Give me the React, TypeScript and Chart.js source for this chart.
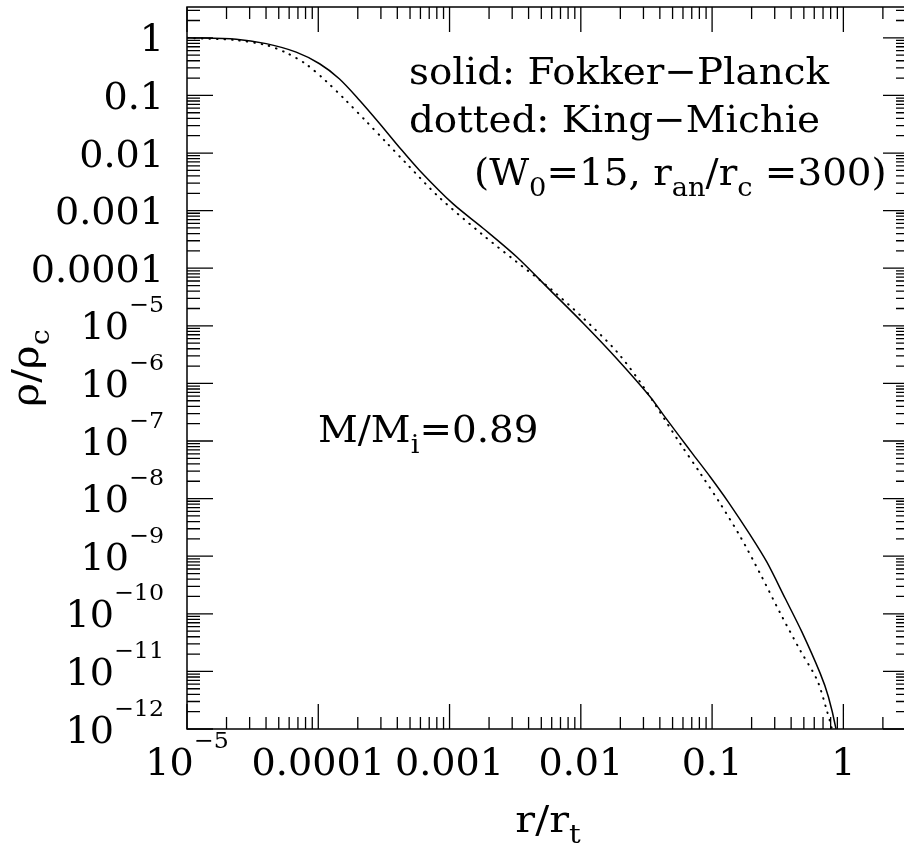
import React, { useEffect, useRef } from "react";
import { Chart, registerables } from "chart.js";

Chart.register(...registerables);

// ---- data ----
const rSolid = [1.0e-5, 2.37e-5, 4.01e-5, 6.79e-5, 1.023e-4, 1.445e-4, 2.06e-4, 2.92e-4, 4.14e-4, 5.89e-4, 1.06e-3, 1.81e-3, 3.24e-3, 5.83e-3, 1.047e-2, 1.88e-2, 3.37e-2, 4.27e-2, 5.70e-2, 7.21e-2, 9.66e-2, 0.133, 0.195, 0.261, 0.360, 0.482, 0.665, 0.769, 0.879, 0.912];
const rhoSolid = [1.0, 0.949, 0.793, 0.565, 0.355, 0.195, 0.0828, 0.0330, 0.01265, 5.04e-3, 1.32e-3, 4.90e-4, 1.58e-4, 4.17e-5, 1.10e-5, 2.69e-6, 5.89e-7, 2.82e-7, 1.17e-7, 5.75e-8, 2.40e-8, 8.71e-9, 2.34e-9, 7.94e-10, 1.86e-10, 4.90e-11, 9.33e-12, 3.63e-12, 1.0e-12, 5.0e-13];

const rDotted = [1.0e-5, 2.36e-5, 4.00e-5, 5.68e-5, 8.07e-5, 1.146e-4, 1.626e-4, 2.31e-4, 3.28e-4, 4.66e-4, 8.31e-4, 1.81e-3, 3.24e-3, 5.83e-3, 1.047e-2, 1.88e-2, 3.00e-2, 5.70e-2, 8.13e-2, 0.1148, 0.164, 0.232, 0.331, 0.468, 0.631, 0.746, 0.817, 0.841];
const rhoDotted = [1.0, 0.912, 0.747, 0.553, 0.349, 0.177, 0.0813, 0.0358, 0.01545, 6.68e-3, 1.71e-3, 3.72e-4, 1.29e-4, 4.47e-5, 1.35e-5, 3.55e-6, 8.71e-7, 9.12e-8, 2.75e-8, 8.32e-9, 2.19e-9, 5.01e-10, 1.02e-10, 2.34e-11, 7.08e-12, 2.14e-12, 1.0e-12, 5.0e-13];

const xMin = 1e-5;
const xMax = 3.162;
const yMin = 1e-12;
const yMax = 3.43;

const xTickValues = [1e-5, 1e-4, 1e-3, 1e-2, 1e-1, 1];
const xTickLabels = ["10^{−5}", "0.0001", "0.001", "0.01", "0.1", "1"];
const yTickValues = [1, 1e-1, 1e-2, 1e-3, 1e-4, 1e-5, 1e-6, 1e-7, 1e-8, 1e-9, 1e-10, 1e-11, 1e-12];
const yTickLabels = ["1", "0.1", "0.01", "0.001", "0.0001", "10^{−5}", "10^{−6}", "10^{−7}", "10^{−8}", "10^{−9}", "10^{−10}", "10^{−11}", "10^{−12}"];

const xTitle = "r/r_{t}";
const yTitle = "ρ/ρ_{c}";
const noteLines = ["solid: Fokker−Planck", "dotted: King−Michie", "(W_{0}=15, r_{an}/r_{c} =300)"];
const massNote = "M/M_{i}=0.89";

const FONT = '"DejaVu Serif", serif';

type Seg = { t: string; k: number };
function parseRich(s: string): Seg[] {
  const segs: Seg[] = [];
  let i = 0;
  let buf = "";
  while (i < s.length) {
    const c = s[i];
    if ((c === "^" || c === "_") && s[i + 1] === "{") {
      if (buf) { segs.push({ t: buf, k: 0 }); buf = ""; }
      const end = s.indexOf("}", i + 2);
      segs.push({ t: s.slice(i + 2, end), k: c === "^" ? 1 : -1 });
      i = end + 1;
    } else { buf += c; i++; }
  }
  if (buf) segs.push({ t: buf, k: 0 });
  return segs;
}

type RichOpts = { size: number; supSize: number; subSize: number; rise: number; drop: number; sx: number };

function drawRich(ctx: CanvasRenderingContext2D, s: string, x: number, y: number, align: string, o: RichOpts) {
  const segs = parseRich(s);
  const fontOf = (k: number) => `${k === 0 ? o.size : k > 0 ? o.supSize : o.subSize}px ${FONT}`;
  const widths = segs.map((sg) => { ctx.font = fontOf(sg.k); return ctx.measureText(sg.t).width * o.sx; });
  const total = widths.reduce((a, b) => a + b, 0);
  let cx = align === "left" ? x : align === "right" ? x - total : x - total / 2;
  ctx.textAlign = "left";
  ctx.textBaseline = "alphabetic";
  ctx.fillStyle = "#000";
  segs.forEach((sg, i) => {
    ctx.font = fontOf(sg.k);
    const dy = sg.k > 0 ? -o.rise : sg.k < 0 ? o.drop : 0;
    ctx.save();
    ctx.translate(cx, y + dy);
    ctx.scale(o.sx, 1);
    ctx.fillText(sg.t, 0, 0);
    ctx.restore();
    cx += widths[i];
  });
}

const tickOpts: RichOpts = { size: 37, supSize: 23, subSize: 26, rise: 27, drop: 11, sx: 1.03 };
const textOpts: RichOpts = { size: 37, supSize: 23, subSize: 26, rise: 27, drop: 11, sx: 1.05 };

const framePlugin = {
  id: "pgframe",
  afterDraw(chart: any) {
    const ctx: CanvasRenderingContext2D = chart.ctx;
    const { left, right, top, bottom } = chart.chartArea;
    const xs = chart.scales.x;
    const ys = chart.scales.y;
    ctx.save();
    ctx.strokeStyle = "#000";
    ctx.lineWidth = 1.5;
    ctx.strokeRect(left, top, right - left, bottom - top);

    ctx.lineWidth = 1.3;
    ctx.beginPath();
    for (let k = -5; k <= 0; k++) {
      for (let m = 1; m <= 9; m++) {
        const v = m * Math.pow(10, k);
        if (v < xMin * 0.999 || v > xMax) continue;
        const px = xs.getPixelForValue(v);
        const len = m === 1 ? 25 : 12;
        ctx.moveTo(px, bottom); ctx.lineTo(px, bottom - len);
        ctx.moveTo(px, top); ctx.lineTo(px, top + len);
      }
    }
    for (let k = -12; k <= 0; k++) {
      for (let m = 1; m <= 9; m++) {
        const v = m * Math.pow(10, k);
        if (v < yMin * 0.999 || v > yMax) continue;
        const py = ys.getPixelForValue(v);
        const len = m === 1 ? 26 : 13;
        ctx.moveTo(left, py); ctx.lineTo(left + len, py);
        ctx.moveTo(right, py); ctx.lineTo(right - len, py);
      }
    }
    ctx.stroke();

    xTickValues.forEach((v, i) => {
      drawRich(ctx, xTickLabels[i], xs.getPixelForValue(v), 775, "center", tickOpts);
    });
    yTickValues.forEach((v, i) => {
      drawRich(ctx, yTickLabels[i], 164, ys.getPixelForValue(v) + 13.5, "right", tickOpts);
    });

    drawRich(ctx, xTitle, (left + right) / 2, 832, "center", { ...textOpts, sx: 1.12 });
    ctx.save();
    ctx.translate(38, (top + bottom) / 2);
    ctx.rotate(-Math.PI / 2);
    drawRich(ctx, yTitle, 0, 0, "center", { ...textOpts, sx: 1.1 });
    ctx.restore();

    drawRich(ctx, noteLines[0], 409, 83.5, "left", textOpts);
    drawRich(ctx, noteLines[1], 409, 131.7, "left", textOpts);
    drawRich(ctx, noteLines[2], 474, 185, "left", textOpts);
    drawRich(ctx, massNote, 318, 442, "left", textOpts);
    ctx.restore();
  },
};

export default function App() {
  const canvasRef = useRef<HTMLCanvasElement | null>(null);

  useEffect(() => {
    if (!canvasRef.current) return;
    const chart = new Chart(canvasRef.current, {
      type: "line",
      data: {
        datasets: [
          {
            label: "Fokker-Planck",
            data: rSolid.map((r, i) => ({ x: r, y: rhoSolid[i] })),
            borderColor: "#000",
            borderWidth: 1.5,
            pointRadius: 0,
            tension: 0.3,
            fill: false,
          },
          {
            label: "King-Michie",
            data: rDotted.map((r, i) => ({ x: r, y: rhoDotted[i] })),
            borderColor: "#000",
            borderWidth: 2,
            borderDash: [0.5, 7],
            borderCapStyle: "round",
            pointRadius: 0,
            tension: 0.3,
            fill: false,
          },
        ],
      },
      options: {
        responsive: false,
        animation: false,
        devicePixelRatio: 1,
        layout: { padding: { left: 187, top: 7, right: 11, bottom: 120 } },
        plugins: { legend: { display: false }, tooltip: { enabled: false } },
        events: [],
        scales: {
          x: { type: "logarithmic", min: xMin, max: xMax, display: false },
          y: { type: "logarithmic", min: yMin, max: yMax, display: false },
        },
      } as any,
      plugins: [framePlugin],
    });
    return () => chart.destroy();
  }, []);

  return (
    <div style={{ position: "fixed", left: 0, top: 0, width: 904, height: 849, overflow: "hidden", background: "#fff" }}>
      <canvas ref={canvasRef} width={920} height={849} style={{ width: 920, height: 849, display: "block" }} />
    </div>
  );
}
